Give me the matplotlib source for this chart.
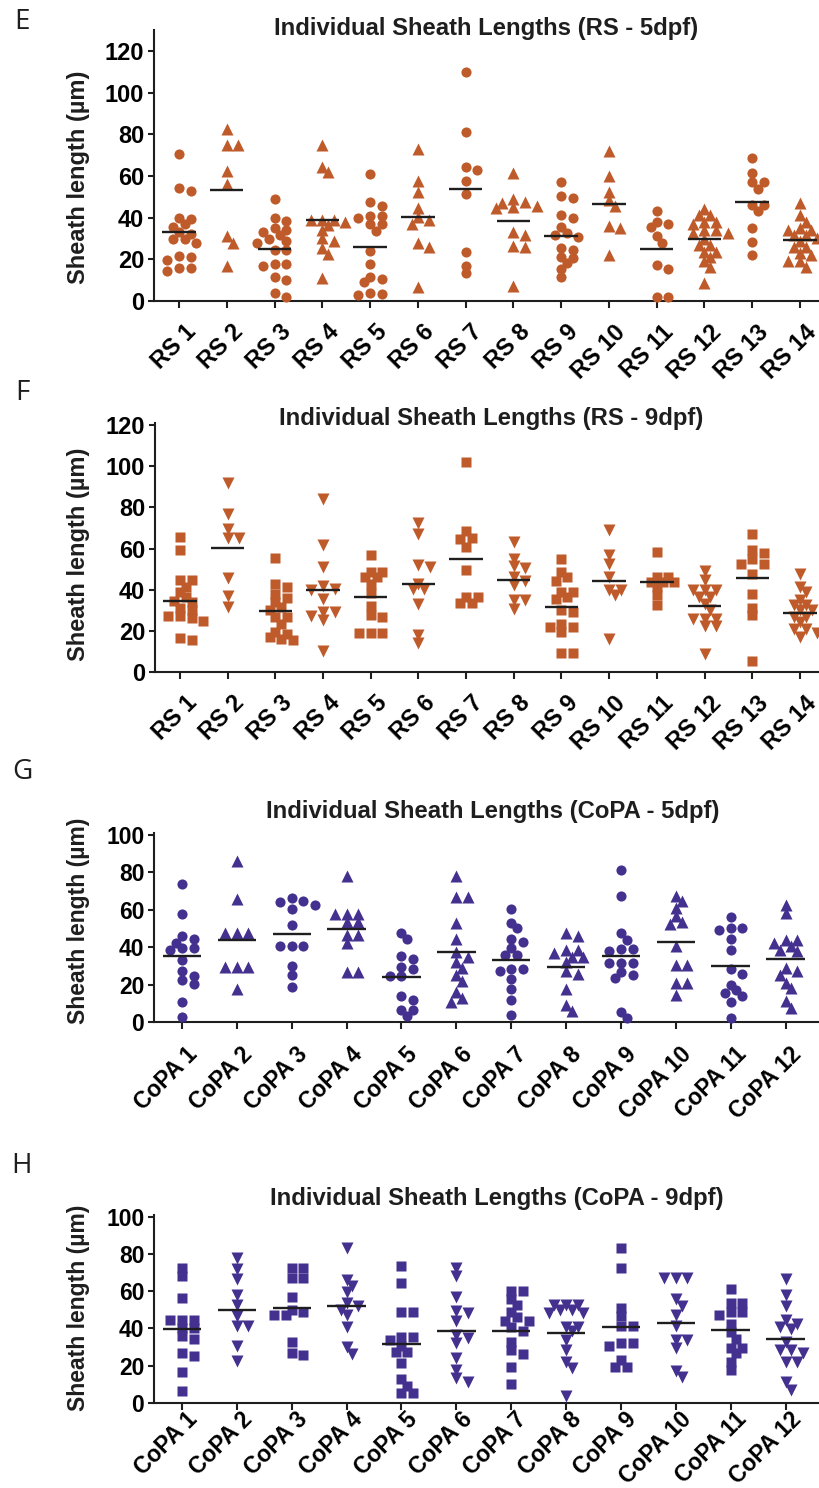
import numpy as np
import matplotlib
matplotlib.use('Agg')
import matplotlib.pyplot as plt
from matplotlib.transforms import ScaledTranslation

plt.rcParams['font.family'] = ['Liberation Sans', 'DejaVu Sans']

ORANGE = '#BF5B2A'
PURPLE = '#44318F'
INK = '#1E1E1E'

# ---------------- data ----------------
rs_labels = ['RS 1', 'RS 2', 'RS 3', 'RS 4', 'RS 5', 'RS 6', 'RS 7',
             'RS 8', 'RS 9', 'RS 10', 'RS 11', 'RS 12', 'RS 13', 'RS 14']
copa_labels = ['CoPA 1', 'CoPA 2', 'CoPA 3', 'CoPA 4', 'CoPA 5', 'CoPA 6',
               'CoPA 7', 'CoPA 8', 'CoPA 9', 'CoPA 10', 'CoPA 11', 'CoPA 12']

rs_5dpf = [
    [70.4, 54, 53, 40, 39.4, 37, 35.7, 33, 32, 29.6, 29.6, 28, 21.8, 21.3, 19.7, 15.7, 15.7, 14.4],
    [82.6, 74.9, 74.9, 62.4, 56, 31, 27.8, 17],
    [49, 39.7, 38.4, 35, 34, 33, 31.7, 29.6, 28.8, 27.7, 24.5, 24.5, 17.6, 17.6, 17, 11.4, 10, 3.7, 2],
    [74.6, 64.5, 62, 38.9, 38.9, 38.9, 38, 36.5, 34, 30, 29, 25.3, 22.6, 10.9],
    [60.8, 47.7, 45.6, 40.8, 40.8, 39.7, 37, 37, 33.6, 24.2, 17.8, 11.4, 10.6, 9, 4, 3.4, 2.9],
    [72.8, 57.6, 52.5, 44.5, 40.2, 38.9, 37, 27.7, 25.8, 6.9],
    [110, 81, 64.5, 62.9, 57.8, 51.4, 23.7, 17, 13.3],
    [61.6, 48.8, 47.7, 46.9, 45.6, 45.0, 44.5, 33.3, 31.7, 26.6, 26.1, 7.2],
    [57, 50.4, 49.3, 41.3, 39.7, 35.7, 32.5, 31.7, 30.9, 25.3, 24.5, 21.3, 20.5, 18, 15.2, 11.4],
    [72, 60, 52.3, 48.5, 45.6, 36, 35.2, 22],
    [43.4, 38.1, 36.8, 35.7, 31, 27.7, 17.3, 15.5, 2.1, 2.1],
    [44, 41.3, 41.3, 38, 38, 37, 34, 34, 32.5, 32.5, 29.6, 27, 27, 23.7, 23.7, 21.3, 19, 16.5, 8.5],
    [68.8, 61.3, 57.3, 57.3, 53.8, 46, 46, 43.4, 34.9, 28.2, 22],
    [47.2, 41.3, 38, 35, 34, 34, 31.7, 31.7, 30, 29, 26, 26, 22.9, 22, 19, 19, 16.5],
]
rs_5dpf_mean = [33, 53.3, 25.1, 38.7, 26.1, 40.3, 53.6, 38.6, 31.2, 46.4, 25.1, 29.6, 47.4, 29.4]

rs_9dpf = [
    [65.7, 59.2, 44.6, 44.6, 41.3, 38.9, 36.5, 34.4, 34, 31.3, 30, 27, 27, 26, 24.8, 16.5, 15.7],
    [92, 77, 69.7, 64.9, 64.9, 45.9, 37, 31.6],
    [55.5, 43, 41.3, 38.1, 36, 34, 31.6, 30, 26.8, 26.8, 23.5, 19.5, 18.6, 17, 16.2, 15.7],
    [84.3, 61.6, 51.1, 41.7, 40.5, 39.7, 35.7, 29.2, 29.2, 27, 25.5, 10.2],
    [56.8, 48.6, 48.6, 46.2, 46.2, 43, 38.4, 32.1, 27.6, 26.8, 19, 19, 19],
    [72.2, 67.3, 52.2, 51, 43, 40.5, 40.5, 33.2, 18.2, 14.1],
    [102, 68.6, 65, 64.5, 60.8, 49.4, 36.5, 36.5, 33.5, 33.5],
    [63.2, 55.1, 51.4, 50.3, 46.2, 44.3, 42.2, 35.2, 34.9, 30.8],
    [55.1, 48.6, 46.2, 44.3, 38.9, 38.9, 36.5, 35.7, 30.3, 29.2, 23.5, 21.9, 21.9, 19.5, 9.2, 9.2],
    [68.9, 56.8, 52.4, 46.2, 39.7, 39.7, 37.3, 16.2],
    [58.4, 46.2, 46.2, 43.8, 43.8, 43.8, 41.3, 37.3, 32.8],
    [49, 44.6, 39.7, 39.7, 39.7, 36.5, 36.5, 33.2, 30, 25.9, 25.9, 25.9, 22.2, 22.2, 8.9],
    [67, 59.2, 57.6, 55, 52.7, 52.7, 47.8, 38.1, 31.3, 27.6, 5.2],
    [47.8, 41.3, 38.9, 34.9, 32.4, 32.4, 30, 30, 26.8, 26.8, 24.3, 21.1, 21.1, 19, 17],
]
rs_9dpf_mean = [34.5, 60.5, 29.7, 39.7, 36.5, 42.6, 55.1, 44.6, 31.6, 44.3, 43.8, 31.9, 45.9, 28.7]

copa_5dpf = [
    [73.7, 57.8, 45.7, 44.3, 42.2, 39.5, 39.5, 38.3, 33.3, 27, 24.7, 22.6, 20.3, 10.5, 2.5],
    [86.1, 65.8, 47.5, 47.5, 47.5, 29.4, 29.4, 29.4, 17.8],
    [66.2, 64.4, 63.9, 62.6, 60.3, 51.6, 40.4, 40.4, 40.4, 30.1, 25.3, 18.5],
    [77.8, 57.8, 57.8, 57.8, 53.7, 53.7, 46.6, 46.6, 42.2, 26.5, 26.5],
    [47.5, 44.3, 35.4, 33.6, 29.4, 28.3, 24.7, 24.7, 14.1, 11.6, 6.6, 6.2, 3],
    [77.8, 66.7, 66.7, 52.8, 44.3, 37.4, 35, 31.9, 28.8, 25.3, 22.1, 15.8, 12.8, 10.5],
    [60.3, 52.8, 50.2, 44.3, 42.5, 39.5, 35.9, 35.9, 28.3, 28.3, 27, 23, 17.6, 11.9, 3.6],
    [47.5, 45.7, 38.6, 38.6, 36.8, 35, 35, 31.9, 27, 25.6, 17.6, 9.3, 5.7],
    [81.3, 67.4, 47.5, 43.9, 39, 39, 37.7, 31.5, 31.5, 31.5, 26.5, 25.3, 23.5, 5.3, 2.1],
    [67.1, 64.4, 60.9, 56.4, 53.7, 52.5, 40.4, 30.6, 30.6, 20.8, 20.8, 14.6],
    [56, 50.2, 50.2, 48.9, 44.3, 38.6, 28.3, 25.8, 19.9, 16.9, 15.5, 14.1, 10.5, 2.1],
    [62.6, 58.2, 43.9, 43.9, 42.2, 40.4, 38.6, 37.7, 28.8, 27, 25.3, 20.8, 18.1, 11, 7.5],
]
copa_5dpf_mean = [35.1, 43.8, 47.0, 49.5, 23.8, 37.5, 33.3, 29.5, 35.4, 42.5, 30.1, 33.6]

copa_9dpf = [
    [72.3, 67.9, 56.3, 44.6, 44.6, 44.6, 40.2, 40.2, 35.7, 34.3, 27.1, 25.4, 16.4, 6.3],
    [77.7, 71.8, 66.4, 58, 52.7, 46.8, 41.4, 41.4, 30.4, 22.3],
    [72.3, 72.3, 67, 67, 57.1, 50, 48.6, 47.3, 47.3, 33, 27.1, 25.9],
    [83, 66, 62.9, 59.8, 53.9, 52.1, 50, 47.3, 40.7, 30, 26.2],
    [73.6, 64.6, 48.9, 48.9, 35.4, 35.4, 33.9, 30.4, 27.3, 27.3, 21.4, 12.9, 9.3, 5.4, 5.4],
    [72.3, 67.9, 56.8, 49.6, 48.2, 43.8, 36.6, 34.8, 32.1, 24.1, 17.9, 13.4, 11.1],
    [60.2, 60.2, 55.7, 52.7, 49.1, 46, 43.8, 43.8, 41, 38.9, 33, 28.2, 26.4, 19.3, 10.4],
    [52.7, 52.7, 52.7, 50, 50, 48.2, 48.2, 41, 41, 38.4, 33.9, 28.6, 21.8, 18.8, 3.6],
    [83, 72.3, 50.9, 46.8, 41.4, 41.4, 32.1, 32.1, 30.4, 22.9, 19.3, 19.3],
    [67, 67, 67, 55.7, 52.1, 47.3, 41.4, 33.9, 33.9, 29.5, 17, 13.9],
    [61.1, 53.9, 53.9, 48.6, 48.6, 47.3, 42.5, 37.9, 34.3, 29.5, 29.5, 26.8, 21.8, 17.5],
    [66.4, 58, 51.8, 44.6, 42.3, 41, 39.6, 32.5, 28.6, 28.6, 26.8, 21.8, 21.8, 11.1, 7.1],
]
copa_9dpf_mean = [39.6, 50.0, 50.9, 51.8, 31.8, 38.4, 38.9, 37.5, 40.7, 43.2, 39.3, 34.5]

# ---------------- layout ----------------
W, H = 819, 1488
fig = plt.figure(figsize=(W / 100, H / 100), dpi=100)


def swarm_offsets(vals, px_y, px_x, mind=7.5, step=5.8):
    """Column-scatter offsets (in x units) so markers barely overlap."""
    vals = np.asarray(vals, float)
    order = np.argsort(-vals, kind='stable')
    placed = []
    offs = np.zeros(len(vals))
    cands = [0.0]
    for m in range(1, 30):
        cands += [m * step, -m * step]
    for i in order:
        y = vals[i] * px_y
        chosen = 0.0
        for c in cands:
            if all((c - px) ** 2 + (y - py) ** 2 >= mind ** 2 for px, py in placed):
                chosen = c
                break
        placed.append((chosen, y))
        offs[i] = chosen / px_x
    return offs


def panel(groups, means, labels, markers, msizes, color, box, ylim, yticks,
          xlim, title, title_xy, letter, letter_xy, ylab_xy, fs_tick, lab_dx, lab_dy):
    left, top, right, bottom = box
    ax = fig.add_axes([left / W, 1 - bottom / H, (right - left) / W, (bottom - top) / H])
    ax.set_xlim(*xlim)
    ax.set_ylim(*ylim)
    ax_h = bottom - top
    ax_w = right - left
    px_y = ax_h / (ylim[1] - ylim[0])
    px_x = ax_w / (xlim[1] - xlim[0])
    for i, vals in enumerate(groups):
        xc = i + 1
        mk = markers[i % 2]
        ms = msizes[i % 2]
        offs = swarm_offsets(vals, px_y, px_x)
        ax.plot(xc + offs, vals, linestyle='none', marker=mk, ms=ms,
                mfc=color, mec='none', clip_on=False, zorder=3)
        ax.hlines(means[i], xc - 0.35, xc + 0.35, color=INK, lw=1.7, zorder=4)
    for s in ['top', 'right']:
        ax.spines[s].set_visible(False)
    for s in ['left', 'bottom']:
        ax.spines[s].set_linewidth(1.5)
        ax.spines[s].set_color(INK)
    ax.set_yticks(yticks)
    ax.set_yticklabels([str(t) for t in yticks], fontsize=fs_tick, fontweight='bold')
    ax.set_xticks(np.arange(1, len(groups) + 1))
    ax.set_xticklabels(labels, fontsize=fs_tick, fontweight='bold',
                       rotation=45, ha='right', va='top', rotation_mode='anchor')
    ax.tick_params(axis='y', direction='out', length=4, width=1.5, color=INK, pad=3)
    ax.tick_params(axis='x', direction='out', length=5, width=1.5, color=INK, pad=4)
    off = ScaledTranslation(lab_dx / 100, -lab_dy / 100, fig.dpi_scale_trans)
    for lbl in ax.get_xticklabels():
        lbl.set_transform(lbl.get_transform() + off)
    fig.text(title_xy[0] / W, 1 - title_xy[1] / H, title, ha='center', va='center',
             fontsize=17.2, fontweight='bold', color=INK)
    fig.text(letter_xy[0] / W, 1 - letter_xy[1] / H, letter, ha='center', va='center',
             fontsize=20, family=['Open Sans', 'DejaVu Sans'], color=INK)
    fig.text(ylab_xy[0] / W, 1 - ylab_xy[1] / H, 'Sheath length (µm)', ha='center',
             va='center', rotation=90, fontsize=fs_tick, fontweight='bold', color=INK)
    return ax


rs_x = (0.477, 14.40)
copa_x = (0.489, 12.61)

panel(rs_5dpf, rs_5dpf_mean, rs_labels, ['o', '^'], [7.3, 8.4], ORANGE,
      (154, 30, 819, 301), (0, 130), [0, 20, 40, 60, 80, 100, 120], rs_x,
      'Individual Sheath Lengths (RS - 5dpf)', (486, 28), 'E', (22, 22), (79, 177), 17, 5, 7)

panel(rs_9dpf, rs_9dpf_mean, rs_labels, ['s', 'v'], [6.8, 8.4], ORANGE,
      (155, 423, 819, 672), (0, 121), [0, 20, 40, 60, 80, 100, 120], rs_x,
      'Individual Sheath Lengths (RS - 9dpf)', (491, 419), 'F', (22, 393), (79, 554), 17, 5, 7)

panel(copa_5dpf, copa_5dpf_mean, copa_labels, ['o', '^'], [7.3, 8.4], PURPLE,
      (154, 833, 819, 1022), (0, 101), [0, 20, 40, 60, 80, 100], copa_x,
      'Individual Sheath Lengths (CoPA - 5dpf)', (493, 812), 'G', (22, 772), (79, 921), 16.5, 4, 8)

panel(copa_9dpf, copa_9dpf_mean, copa_labels, ['s', 'v'], [6.8, 8.4], PURPLE,
      (154, 1215, 819, 1403), (0, 100.9), [0, 20, 40, 60, 80, 100], copa_x,
      'Individual Sheath Lengths (CoPA - 9dpf)', (497, 1198), 'H', (21, 1166), (79, 1308), 16.5, 4, -8)

fig.savefig('out.png', dpi=100)
